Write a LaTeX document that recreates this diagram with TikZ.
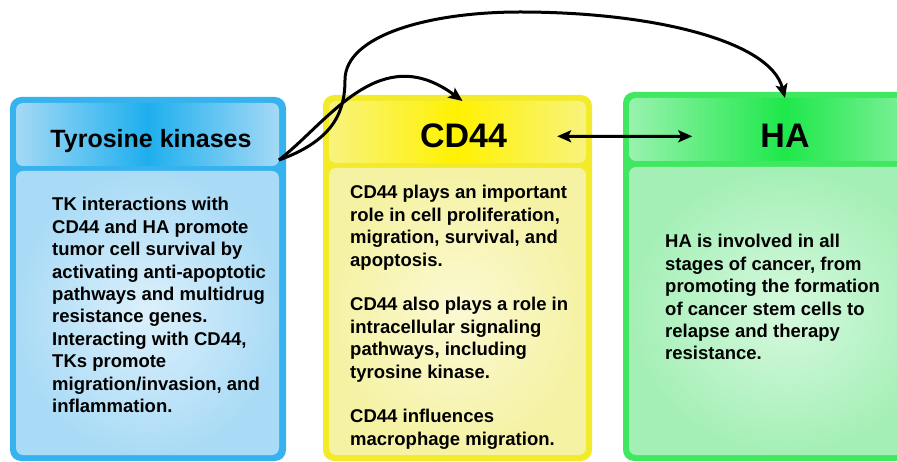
\documentclass[tikz,border=0pt]{standalone}
\usepackage{fontspec}
\setmainfont{Liberation Sans}
\usetikzlibrary{arrows.meta}

% frame, header and body colours of the three cards
\definecolor{tkframe}{HTML}{36B3EE}
\definecolor{tkhedge}{HTML}{A4D9F5}
\definecolor{tkhmid}{HTML}{1EAFEE}
\definecolor{tkbody}{HTML}{AADBF6}
\definecolor{tkbodyin}{HTML}{DCF0FB}
\definecolor{cdframe}{HTML}{F3EB2A}
\definecolor{cdhedge}{HTML}{F8F37E}
\definecolor{cdhmid}{HTML}{FFF200}
\definecolor{cdbody}{HTML}{F5F2A4}
\definecolor{cdbodyin}{HTML}{FBF9D2}
\definecolor{haframe}{HTML}{3FE860}
\definecolor{hahedge}{HTML}{98F2AE}
\definecolor{hahmid}{HTML}{1EE84A}
\definecolor{habody}{HTML}{A4EFB6}
\definecolor{habodyin}{HTML}{D6F9DE}

\tikzset{
  frame/.style={rectangle, rounded corners=11pt, inner sep=0pt, outer sep=0pt,
    anchor=north west},
  panel/.style={rectangle, rounded corners=7pt, inner sep=0pt, outer sep=0pt,
    anchor=north west},
  cardtitle/.style={font=\bfseries\fontsize{34}{40}\selectfont, anchor=base,
    inner sep=0pt},
  smalltitle/.style={font=\bfseries\fontsize{25}{30}\selectfont, anchor=base,
    inner sep=0pt},
  bodytext/.style={font=\bfseries\fontsize{18.5}{22.4}\selectfont,
    anchor=base west, inner sep=0pt},
  link/.style={-{Stealth[length=14pt,width=12pt,inset=3pt]}, line width=3pt,
    black},
  dlink/.style={{Stealth[length=14pt,width=12pt,inset=3pt]}-{Stealth[length=14pt,width=12pt,inset=3pt]},
    line width=3pt, black},
}

\begin{document}
\begin{tikzpicture}[x=1pt,y=-1pt]
\useasboundingbox (0,0) rectangle (897,462);
\clip (0,0) rectangle (897,462);
\fill[white] (0,0) rectangle (897,462);

% Tyrosine kinases card
\node[frame, fill=tkframe, minimum width=276pt, minimum height=364pt] (tkframe) at (10,97) {};
\node[panel, left color=tkhedge, right color=tkhedge, middle color=tkhmid,
  minimum width=263pt, minimum height=63pt] (tkhead) at (16,103) {};
\node[panel, inner color=tkbodyin, outer color=tkbody,
  minimum width=263pt, minimum height=284pt] (tkbody) at (16,171) {};
\node[smalltitle] (tktitle) at (151,148) {Tyrosine kinases};
\node[bodytext] (tktext) at (52,211) {\parbox[t]{230pt}{\raggedright
  TK interactions with\\
  CD44 and HA promote\\
  tumor cell survival by\\
  activating anti-apoptotic\\
  pathways and multidrug\\
  resistance genes.\\
  Interacting with CD44,\\
  TKs promote\\
  migration/invasion, and\\
  inflammation.}};

% CD44 card
\node[frame, fill=cdframe, minimum width=269pt, minimum height=366pt] (cdframe) at (323,95) {};
\node[panel, left color=cdhedge, right color=cdhedge, middle color=cdhmid,
  minimum width=257pt, minimum height=62pt] (cdhead) at (329,101) {};
\node[panel, inner color=cdbodyin, outer color=cdbody,
  minimum width=257pt, minimum height=287pt] (cdbody) at (329,168) {};
\node[cardtitle] (cdtitle) at (463.5,148) {CD44};
\node[bodytext] (cdtext) at (350,199) {\parbox[t]{230pt}{\raggedright
  CD44 plays an important\\
  role in cell proliferation,\\
  migration, survival, and\\
  apoptosis.\\[22.4pt]
  CD44 also plays a role in\\
  intracellular signaling\\
  pathways, including\\
  tyrosine kinase.\\[22.4pt]
  CD44 influences\\
  macrophage migration.}};

% HA card
\node[frame, fill=haframe, minimum width=324pt, minimum height=369pt] (haframe) at (623,92) {};
\node[panel, left color=hahedge, right color=hahedge, middle color=hahmid,
  minimum width=312pt, minimum height=63pt] (hahead) at (629,98) {};
\node[panel, inner color=habodyin, outer color=habody,
  minimum width=312pt, minimum height=288pt] (habody) at (629,167) {};
\node[cardtitle] (hatitle) at (785,148) {HA};
\node[bodytext] (hatext) at (665,248) {\parbox[t]{230pt}{\raggedright
  HA is involved in all\\
  stages of cancer, from\\
  promoting the formation\\
  of cancer stem cells to\\
  relapse and therapy\\
  resistance.}};

% connectors
\coordinate (tkstart) at ([yshift=6pt]tkhead.south east);
\coordinate (cdtop) at ([xshift=5pt]cdhead.north);
\coordinate (hatop) at (hatitle.north |- hahead.north);

\draw[link] (tkstart) .. controls (330,120) and (380,40) .. (cdtop);
\draw[link] (tkstart) .. controls (335,140) and (345,110) .. (345,80)
  .. controls (345,35) and (430,12) .. (520,12)
  .. controls (650,12) and (770,40) .. (hatop);
\draw[dlink] ([xshift=50pt]cdtitle.east) -- ([xshift=-68pt]hatitle.west);
\end{tikzpicture}
\end{document}
